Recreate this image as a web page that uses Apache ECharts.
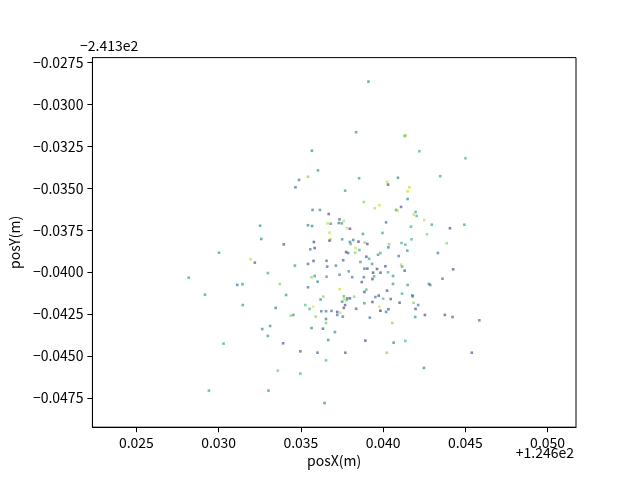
<!DOCTYPE html>
<html>
<head>
<meta charset="utf-8">
<script src="https://cdn.jsdelivr.net/npm/echarts@6/dist/echarts.min.js"></script>
<style>html,body{margin:0;padding:0;background:#fff}#c{width:640px;height:480px}</style>
</head>
<body>
<div id="c"></div>
<script>
// Offsets shown by the axes (values below are relative to them)
const X_OFFSET_LABEL = "+1.246e2";
const Y_OFFSET_LABEL = "\u22122.413e2";

const xTicks = [0.025, 0.030, 0.035, 0.040, 0.045, 0.050];
const yTicks = [-0.0475, -0.0450, -0.0425, -0.0400, -0.0375, -0.0350, -0.0325, -0.0300, -0.0275];

const posX = [
0.03567,0.03604,0.03489,0.03543,0.03467,0.03911,0.03836,0.04131,0.04137,0.04220,
0.04501,0.03854,0.04090,0.04347,0.04024,0.04030,0.04159,0.03769,0.04149,0.04149,
0.03882,0.03949,0.03978,0.04109,0.04079,0.04088,0.04197,0.04186,0.04204,0.03669,
0.03735,0.03761,0.03731,0.03749,0.03662,0.03681,0.04018,0.04250,0.04296,0.04494,
0.04169,0.03779,0.03798,0.04406,0.03674,0.03877,0.03996,0.04266,0.03751,0.03680,
0.03674,0.03818,0.03798,0.03850,0.03803,0.03888,0.03904,0.04036,0.04112,0.04135,
0.04173,0.04387,0.04032,0.03832,0.03856,0.04147,0.03775,0.03787,0.03830,0.03983,
0.03969,0.04333,0.04095,0.03898,0.03915,0.03757,0.03862,0.04014,0.04109,0.04115,
0.03933,0.03963,0.03886,0.03904,0.04131,0.04426,0.03656,0.03660,0.03713,0.03791,
0.03939,0.03984,0.04030,0.03735,0.03945,0.04060,0.03812,0.03883,0.03935,0.04361,
0.03656,0.03870,0.04060,0.04149,0.04278,0.04286,0.03735,0.03898,0.03886,0.04024,
0.03761,0.03824,0.03973,0.03953,0.04115,0.04177,0.04180,0.03782,0.03798,0.03763,
0.04000,0.04046,0.03571,0.03616,0.03252,0.03543,0.03568,0.03259,0.03396,0.03579,
0.03584,0.03557,0.03002,0.03194,0.03220,0.03543,0.03577,0.03464,0.03299,0.03584,
0.03565,0.03602,0.03372,0.03113,0.03145,0.03543,0.02818,0.02917,0.03410,0.03636,
0.03620,0.03147,0.03347,0.03527,0.03553,0.03574,0.03624,0.03653,0.03590,0.03438,
0.03454,0.03653,0.03653,0.03313,0.03265,0.03299,0.03565,0.03634,0.03030,0.03392,
0.03497,0.03601,0.03653,0.03360,0.03497,0.02941,0.03303,0.03644,0.03751,0.03769,
0.03779,0.03886,0.03935,0.04100,0.04185,0.04213,0.03686,0.03721,0.03721,0.03739,
0.03761,0.03755,0.03836,0.03977,0.03983,0.04032,0.04018,0.03919,0.04197,0.04195,
0.04254,0.04375,0.04422,0.04585,0.04056,0.03707,0.03666,0.03892,0.04064,0.04135,
0.03770,0.04022,0.04539,0.04248
];
const posY = [
-0.03276,-0.03393,-0.03450,-0.03431,-0.03494,-0.02864,-0.03166,-0.03188,-0.03184,-0.03279,
-0.03321,-0.03440,-0.03437,-0.03428,-0.03462,-0.03478,-0.03494,-0.03514,-0.03518,-0.03564,
-0.03582,-0.03619,-0.03601,-0.03611,-0.03629,-0.03633,-0.03641,-0.03657,-0.03665,-0.03653,
-0.03685,-0.03693,-0.03707,-0.03709,-0.03709,-0.03711,-0.03703,-0.03689,-0.03717,-0.03717,
-0.03729,-0.03737,-0.03741,-0.03738,-0.03765,-0.03772,-0.03766,-0.03774,-0.03804,-0.03804,
-0.03812,-0.03808,-0.03820,-0.03818,-0.03832,-0.03824,-0.03832,-0.03834,-0.03826,-0.03836,
-0.03804,-0.03828,-0.03852,-0.03856,-0.03868,-0.03872,-0.03880,-0.03886,-0.03884,-0.03886,
-0.03896,-0.03886,-0.03904,-0.03908,-0.03920,-0.03929,-0.03939,-0.03965,-0.03955,-0.03967,
-0.03951,-0.03981,-0.03979,-0.03979,-0.03991,-0.03983,-0.03932,-0.03967,-0.03961,-0.03995,
-0.04003,-0.04003,-0.04001,-0.04015,-0.04025,-0.04023,-0.04030,-0.04030,-0.04041,-0.04039,
-0.04027,-0.04059,-0.04070,-0.04076,-0.04070,-0.04076,-0.04102,-0.04104,-0.04118,-0.04110,
-0.04144,-0.04146,-0.04140,-0.04148,-0.04128,-0.04138,-0.04144,-0.04156,-0.04156,-0.04162,
-0.04158,-0.04160,-0.03629,-0.03629,-0.03723,-0.03720,-0.03725,-0.03802,-0.03834,-0.03820,
-0.03856,-0.03864,-0.03884,-0.03923,-0.03943,-0.03951,-0.03933,-0.03961,-0.04005,-0.04023,
-0.04030,-0.04057,-0.04070,-0.04076,-0.04072,-0.04090,-0.04033,-0.04134,-0.04136,-0.04146,
-0.04163,-0.04196,-0.04213,-0.04196,-0.04219,-0.04206,-0.04233,-0.04233,-0.04265,-0.04259,
-0.04255,-0.04303,-0.04279,-0.04321,-0.04339,-0.04380,-0.04333,-0.04337,-0.04426,-0.04424,
-0.04472,-0.04480,-0.04526,-0.04587,-0.04605,-0.04706,-0.04706,-0.04780,-0.04176,-0.04196,
-0.04166,-0.04185,-0.04178,-0.04182,-0.04182,-0.04196,-0.04231,-0.04237,-0.04255,-0.04241,
-0.04213,-0.04265,-0.04218,-0.04206,-0.04230,-0.04221,-0.04237,-0.04271,-0.04219,-0.04267,
-0.04255,-0.04255,-0.04267,-0.04287,-0.04303,-0.04357,-0.04404,-0.04408,-0.04420,-0.04410,
-0.04480,-0.04480,-0.04480,-0.04571
];
const colorVal = [
0.45,0.50,0.35,0.80,0.30,0.45,0.50,0.60,0.85,0.65,
0.65,0.55,0.45,0.60,0.90,0.20,0.90,0.55,0.90,0.40,
0.80,0.90,0.90,0.25,0.50,0.90,0.60,0.90,0.65,0.20,
0.25,0.90,0.35,0.50,0.90,0.50,0.40,0.90,0.60,0.60,
0.60,0.90,0.15,0.20,0.90,0.50,0.60,0.80,0.50,0.90,
0.20,0.35,0.35,0.15,0.65,0.80,0.20,0.80,0.65,0.65,
0.65,0.80,0.35,0.90,0.60,0.50,0.15,0.35,0.80,0.60,
0.50,0.35,0.40,0.20,0.60,0.30,0.50,0.20,0.90,0.60,
0.50,0.15,0.35,0.20,0.20,0.25,0.35,0.30,0.45,0.45,
0.15,0.20,0.65,0.45,0.60,0.50,0.35,0.35,0.15,0.35,
0.50,0.20,0.50,0.50,0.50,0.35,0.90,0.65,0.20,0.20,
0.65,0.80,0.20,0.35,0.60,0.50,0.35,0.35,0.20,0.90,
0.70,0.25,0.40,0.45,0.50,0.40,0.40,0.45,0.20,0.15,
0.15,0.40,0.55,0.90,0.25,0.30,0.20,0.50,0.60,0.50,
0.80,0.45,0.80,0.35,0.50,0.40,0.55,0.55,0.50,0.80,
0.45,0.50,0.35,0.70,0.65,0.95,0.35,0.35,0.80,0.80,
0.50,0.75,0.40,0.50,0.45,0.50,0.40,0.25,0.55,0.25,
0.25,0.30,0.65,0.75,0.65,0.55,0.50,0.40,0.50,0.20,
0.65,0.50,0.20,0.20,0.80,0.40,0.35,0.20,0.35,0.90,
0.20,0.35,0.25,0.95,0.10,0.25,0.40,0.35,0.20,0.50,
0.20,0.20,0.25,0.35,0.80,0.45,0.40,0.15,0.40,0.65,
0.25,0.80,0.25,0.40
];

const points = posX.map((x, i) => [x, posY[i], colorVal[i]]);

const FONT = '"Noto Sans CJK SC", "DejaVu Sans", sans-serif';
const minus = s => s.replace('-', '\u2212');

const chart = echarts.init(document.getElementById('c'), null, {renderer: 'canvas'});
chart.setOption({
  animation: false,
  backgroundColor: '#fff',
  textStyle: {fontFamily: FONT},
  grid: {left: 80, right: 64, top: 57.6, bottom: 52.8, show: true, borderColor: '#000', borderWidth: 1, backgroundColor: 'transparent'},
  visualMap: {
    show: false, dimension: 2, min: 0, max: 1,
    inRange: {color: ['#440154','#482878','#3e4989','#31688e','#26828e','#1f9e89','#35b779','#6ece58','#b5de2b','#fde725']}
  },
  xAxis: {
    type: 'value', min: 0.022326, max: 0.051726,
    name: 'posX(m)', nameLocation: 'middle', nameGap: 25,
    nameTextStyle: {color: '#000', fontSize: 14, fontFamily: FONT},
    axisLine: {show: true, lineStyle: {color: '#000', width: 1}},
    axisTick: {show: true, inside: false, length: 5, lineStyle: {color: '#000', width: 1}, customValues: xTicks},
    axisLabel: {show: true, color: '#000', fontSize: 14, fontFamily: FONT, margin: 8, customValues: xTicks,
      formatter: v => v.toFixed(3)},
    splitLine: {show: false}
  },
  yAxis: {
    type: 'value', min: -0.049242, max: -0.027208,
    name: 'posY(m)', nameLocation: 'middle', nameGap: 68, nameRotate: 90,
    nameTextStyle: {color: '#000', fontSize: 14, fontFamily: FONT},
    axisLine: {show: true, lineStyle: {color: '#000', width: 1}},
    axisTick: {show: true, inside: false, length: 5, lineStyle: {color: '#000', width: 1}, customValues: yTicks},
    axisLabel: {show: true, color: '#000', fontSize: 14, fontFamily: FONT, margin: 9, customValues: yTicks,
      formatter: v => minus(v.toFixed(4))},
    splitLine: {show: false}
  },
  graphic: [
    {type: 'text', left: 80, top: 39, style: {text: Y_OFFSET_LABEL, fill: '#000', font: '14px ' + FONT}},
    {type: 'text', right: 66, top: 446, style: {text: X_OFFSET_LABEL, fill: '#000', font: '14px ' + FONT, textAlign: 'right'}}
  ],
  series: [{
    type: 'scatter',
    data: points,
    symbol: 'rect',
    symbolSize: 2.6,
    itemStyle: {opacity: 0.65}
  }]
});
</script>
</body>
</html>
